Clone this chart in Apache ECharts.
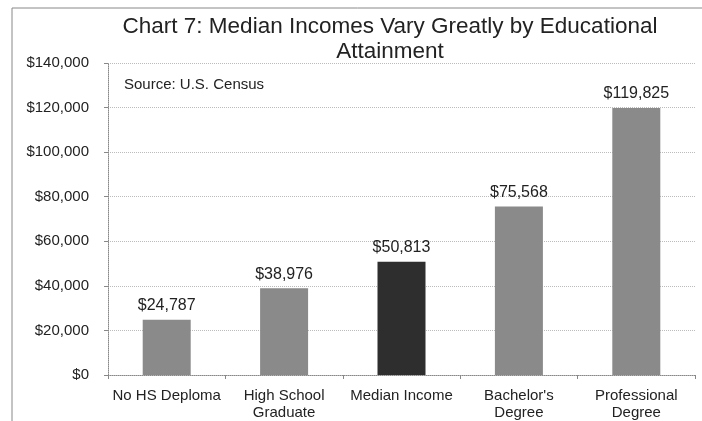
<!DOCTYPE html>
<html>
<head>
<meta charset="utf-8">
<script src="https://cdn.jsdelivr.net/npm/echarts@6/dist/echarts.min.js"></script>
<style>
  html, body { margin: 0; padding: 0; background: #fff; }
  #chart { width: 702px; height: 421px; }
</style>
</head>
<body>
<div id="chart"></div>
<script>
  // values
  const categories = ['No HS Deploma', 'High School\nGraduate', 'Median Income', "Bachelor's\nDegree", 'Professional\nDegree']
  const incomes = [24787, 38976, 50813, 75568, 119825]
  const barColors = ['#8a8a8a', '#8a8a8a', '#2e2e2e', '#8a8a8a', '#8a8a8a']

  const font = 'Liberation Sans, Arial, sans-serif'
  const chart = echarts.init(document.getElementById('chart'))

  const fmtMoney = v => '$' + v.toLocaleString('en-US')

  chart.setOption({
    animation: false,
    textStyle: { fontFamily: font },
    graphic: [{
      type: 'rect',
      shape: { x: 12, y: 8, width: 700, height: 430 },
      style: { fill: 'none', stroke: '#888', lineWidth: 1 },
      silent: true
    }],
    title: [{
      text: 'Chart 7: Median Incomes Vary Greatly by Educational\nAttainment',
      left: 385,
      top: 9,
      textAlign: 'center',
      textStyle: { fontFamily: font, fontSize: 22.5, fontWeight: 'normal', color: '#222', lineHeight: 25 }
    }, {
      text: 'Source: U.S. Census',
      left: 119,
      top: 72,
      textStyle: { fontFamily: font, fontSize: 15, fontWeight: 'normal', color: '#222' }
    }],
    grid: { left: 108, right: 7, top: 63, bottom: 45 },
    xAxis: {
      type: 'category',
      data: categories,
      axisLine: { lineStyle: { color: '#888', type: 'dotted' } },
      axisTick: { show: true, length: 4, lineStyle: { color: '#888' } },
      axisLabel: { fontFamily: font, fontSize: 15, color: '#222', margin: 12, lineHeight: 17, interval: 0 }
    },
    yAxis: {
      type: 'value',
      min: 0,
      max: 140000,
      interval: 20000,
      axisLine: { show: true, lineStyle: { color: '#888', type: 'dotted' } },
      axisTick: { show: true, length: 4, lineStyle: { color: '#888' } },
      axisLabel: { fontFamily: font, fontSize: 15, color: '#222', margin: 19, formatter: fmtMoney },
      splitLine: { lineStyle: { color: '#bbb', type: 'dotted' } }
    },
    series: [{
      type: 'bar',
      barWidth: 48,
      data: incomes.map((v, i) => ({ value: v, itemStyle: { color: barColors[i] } })),
      label: {
        show: true,
        position: 'top',
        distance: 6,
        fontFamily: font,
        fontSize: 16,
        color: '#222',
        formatter: p => fmtMoney(p.value)
      }
    }]
  })
</script>
</body>
</html>
